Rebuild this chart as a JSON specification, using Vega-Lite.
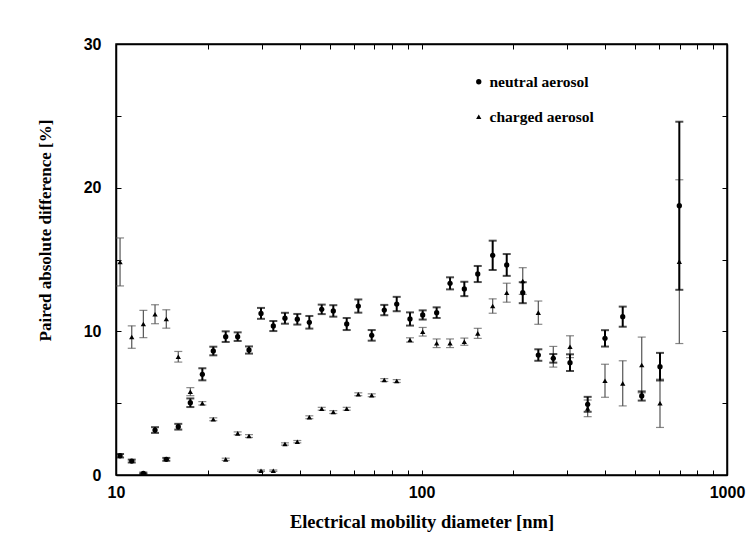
{
  "$schema": "https://vega.github.io/schema/vega-lite/v6.json",
  "width": 611,
  "height": 431,
  "autosize": {"type": "none"},
  "padding": {"left": 116, "top": 44, "right": 20, "bottom": 80},
  "background": "white",
  "config": {
    "view": {"stroke": "#000", "strokeWidth": 1.5},
    "axis": {
      "grid": false,
      "domainColor": "#000",
      "domainWidth": 1.5,
      "tickColor": "#000",
      "tickWidth": 1,
      "labelFont": "Liberation Sans",
      "labelFontWeight": "bold",
      "labelFontSize": 16,
      "labelColor": "#000",
      "labelFlush": false,
      "titleFont": "Liberation Serif",
      "titleFontWeight": "bold",
      "titleFontSize": 17,
      "titleColor": "#000"
    },
    "legend": {
      "labelFont": "Liberation Serif",
      "labelFontWeight": "bold",
      "labelFontSize": 15.5,
      "labelColor": "#000"
    }
  },
  "datasets": {
    "pts": [
      {"d": 10.31, "series": "neutral aerosol", "value": 1.34, "err": 0.12},
      {"d": 11.26, "series": "neutral aerosol", "value": 0.97, "err": 0.1},
      {"d": 12.29, "series": "neutral aerosol", "value": 0.12, "err": 0.05},
      {"d": 13.42, "series": "neutral aerosol", "value": 3.13, "err": 0.2},
      {"d": 14.61, "series": "neutral aerosol", "value": 1.09, "err": 0.1},
      {"d": 15.99, "series": "neutral aerosol", "value": 3.36, "err": 0.2},
      {"d": 17.51, "series": "neutral aerosol", "value": 5.03, "err": 0.3},
      {"d": 19.17, "series": "neutral aerosol", "value": 7.01, "err": 0.42},
      {"d": 20.82, "series": "neutral aerosol", "value": 8.63, "err": 0.3},
      {"d": 22.86, "series": "neutral aerosol", "value": 9.63, "err": 0.37},
      {"d": 25.02, "series": "neutral aerosol", "value": 9.63, "err": 0.3},
      {"d": 27.25, "series": "neutral aerosol", "value": 8.7, "err": 0.25},
      {"d": 29.83, "series": "neutral aerosol", "value": 11.25, "err": 0.38},
      {"d": 32.73, "series": "neutral aerosol", "value": 10.37, "err": 0.35},
      {"d": 35.73, "series": "neutral aerosol", "value": 10.91, "err": 0.38},
      {"d": 39.22, "series": "neutral aerosol", "value": 10.84, "err": 0.37},
      {"d": 42.94, "series": "neutral aerosol", "value": 10.63, "err": 0.44},
      {"d": 47.14, "series": "neutral aerosol", "value": 11.53, "err": 0.33},
      {"d": 51.44, "series": "neutral aerosol", "value": 11.42, "err": 0.4},
      {"d": 56.91, "series": "neutral aerosol", "value": 10.51, "err": 0.42},
      {"d": 62.11, "series": "neutral aerosol", "value": 11.76, "err": 0.46},
      {"d": 68.71, "series": "neutral aerosol", "value": 9.72, "err": 0.37},
      {"d": 75.54, "series": "neutral aerosol", "value": 11.48, "err": 0.36},
      {"d": 82.96, "series": "neutral aerosol", "value": 11.9, "err": 0.5},
      {"d": 91.69, "series": "neutral aerosol", "value": 10.86, "err": 0.46},
      {"d": 100.9, "series": "neutral aerosol", "value": 11.14, "err": 0.32},
      {"d": 112.1, "series": "neutral aerosol", "value": 11.3, "err": 0.37},
      {"d": 124.0, "series": "neutral aerosol", "value": 13.34, "err": 0.42},
      {"d": 138.1, "series": "neutral aerosol", "value": 12.95, "err": 0.5},
      {"d": 152.8, "series": "neutral aerosol", "value": 13.99, "err": 0.56},
      {"d": 171.0, "series": "neutral aerosol", "value": 15.29, "err": 1.02},
      {"d": 190.1, "series": "neutral aerosol", "value": 14.62, "err": 0.76},
      {"d": 214.5, "series": "neutral aerosol", "value": 12.69, "err": 0.73},
      {"d": 241.2, "series": "neutral aerosol", "value": 8.35, "err": 0.4},
      {"d": 270.0, "series": "neutral aerosol", "value": 8.12, "err": 0.3},
      {"d": 306.3, "series": "neutral aerosol", "value": 7.82, "err": 0.58},
      {"d": 349.9, "series": "neutral aerosol", "value": 4.92, "err": 0.52},
      {"d": 398.7, "series": "neutral aerosol", "value": 9.51, "err": 0.57},
      {"d": 455.7, "series": "neutral aerosol", "value": 11.02, "err": 0.7},
      {"d": 525.9, "series": "neutral aerosol", "value": 5.5, "err": 0.32},
      {"d": 603.5, "series": "neutral aerosol", "value": 7.54, "err": 0.96},
      {"d": 698.1, "series": "neutral aerosol", "value": 18.74, "err": 5.85},
      {"d": 10.31, "series": "charged aerosol", "value": 14.83, "err": 1.67},
      {"d": 11.26, "series": "charged aerosol", "value": 9.6, "err": 0.78},
      {"d": 12.29, "series": "charged aerosol", "value": 10.51, "err": 0.95},
      {"d": 13.42, "series": "charged aerosol", "value": 11.19, "err": 0.66},
      {"d": 14.61, "series": "charged aerosol", "value": 10.86, "err": 0.64},
      {"d": 15.99, "series": "charged aerosol", "value": 8.23, "err": 0.37},
      {"d": 17.51, "series": "charged aerosol", "value": 5.8, "err": 0.28},
      {"d": 19.17, "series": "charged aerosol", "value": 4.99, "err": 0.12},
      {"d": 20.82, "series": "charged aerosol", "value": 3.88, "err": 0.1},
      {"d": 22.86, "series": "charged aerosol", "value": 1.09, "err": 0.08},
      {"d": 25.02, "series": "charged aerosol", "value": 2.9, "err": 0.1},
      {"d": 27.25, "series": "charged aerosol", "value": 2.71, "err": 0.1},
      {"d": 29.83, "series": "charged aerosol", "value": 0.3, "err": 0.05},
      {"d": 32.73, "series": "charged aerosol", "value": 0.3, "err": 0.05},
      {"d": 35.73, "series": "charged aerosol", "value": 2.16, "err": 0.08},
      {"d": 39.22, "series": "charged aerosol", "value": 2.32, "err": 0.08},
      {"d": 42.94, "series": "charged aerosol", "value": 4.02, "err": 0.1},
      {"d": 47.14, "series": "charged aerosol", "value": 4.61, "err": 0.1},
      {"d": 51.44, "series": "charged aerosol", "value": 4.38, "err": 0.1},
      {"d": 56.91, "series": "charged aerosol", "value": 4.61, "err": 0.1},
      {"d": 62.11, "series": "charged aerosol", "value": 5.62, "err": 0.1},
      {"d": 68.71, "series": "charged aerosol", "value": 5.55, "err": 0.1},
      {"d": 75.54, "series": "charged aerosol", "value": 6.61, "err": 0.1},
      {"d": 82.96, "series": "charged aerosol", "value": 6.54, "err": 0.1},
      {"d": 91.69, "series": "charged aerosol", "value": 9.4, "err": 0.15},
      {"d": 100.9, "series": "charged aerosol", "value": 9.97, "err": 0.3},
      {"d": 112.1, "series": "charged aerosol", "value": 9.17, "err": 0.3},
      {"d": 124.0, "series": "charged aerosol", "value": 9.17, "err": 0.3},
      {"d": 138.1, "series": "charged aerosol", "value": 9.28, "err": 0.25},
      {"d": 152.8, "series": "charged aerosol", "value": 9.86, "err": 0.35},
      {"d": 171.0, "series": "charged aerosol", "value": 11.76, "err": 0.5},
      {"d": 190.1, "series": "charged aerosol", "value": 12.69, "err": 0.66},
      {"d": 214.5, "series": "charged aerosol", "value": 13.5, "err": 0.93},
      {"d": 241.2, "series": "charged aerosol", "value": 11.3, "err": 0.81},
      {"d": 270.0, "series": "charged aerosol", "value": 8.23, "err": 0.72},
      {"d": 306.3, "series": "charged aerosol", "value": 8.93, "err": 0.76},
      {"d": 349.9, "series": "charged aerosol", "value": 4.64, "err": 0.58},
      {"d": 398.7, "series": "charged aerosol", "value": 6.56, "err": 1.15},
      {"d": 455.7, "series": "charged aerosol", "value": 6.38, "err": 1.57},
      {"d": 525.9, "series": "charged aerosol", "value": 7.66, "err": 1.94},
      {"d": 603.5, "series": "charged aerosol", "value": 4.99, "err": 1.68},
      {"d": 698.1, "series": "charged aerosol", "value": 14.85, "err": 5.7}
    ]
  },
  "data": {"name": "pts"},
  "layer": [
    {
      "transform": [{"filter": "datum.series == 'charged aerosol'"}],
      "mark": {"type": "errorbar", "ticks": true, "size": 8, "thickness": 1.2, "color": "#555555"},
      "encoding": {
        "x": {"field": "d", "type": "quantitative", "scale": {"type": "log", "domain": [10, 1000], "nice": false}, "axis": null},
        "y": {"field": "value", "type": "quantitative", "scale": {"domain": [0, 30], "nice": false, "zero": false}, "axis": null},
        "yError": {"field": "err"}
      }
    },
    {
      "transform": [{"filter": "datum.series == 'neutral aerosol'"}],
      "mark": {"type": "errorbar", "ticks": true, "size": 8, "thickness": 2, "color": "#000000"},
      "encoding": {
        "x": {"field": "d", "type": "quantitative", "scale": {"type": "log", "domain": [10, 1000], "nice": false}, "axis": null},
        "y": {"field": "value", "type": "quantitative", "scale": {"domain": [0, 30], "nice": false, "zero": false}, "axis": null},
        "yError": {"field": "err"}
      }
    },
    {
      "mark": {"type": "point", "filled": true, "color": "#000000", "opacity": 1, "size": 28},
      "encoding": {
        "x": {
          "field": "d", "type": "quantitative",
          "scale": {"type": "log", "domain": [10, 1000], "nice": false},
          "axis": {
            "orient": "bottom",
            "title": "Electrical mobility diameter [nm]",
            "values": [10, 20, 30, 40, 50, 60, 70, 80, 90, 100, 200, 300, 400, 500, 600, 700, 800, 900, 1000],
            "labelExpr": "datum.value == 10 || datum.value == 100 || datum.value == 1000 ? format(datum.value, 'd') : ''",
            "tickSize": -5,
            "labelPadding": 14,
            "titleY": 46,
            "titleBaseline": "middle",
            "titleFontSize": 18.5
          }
        },
        "y": {
          "field": "value", "type": "quantitative",
          "scale": {"domain": [0, 30], "nice": false, "zero": false},
          "axis": {
            "orient": "left",
            "title": "Paired absolute difference [%]",
            "values": [0, 5, 10, 15, 20, 25, 30],
            "labelExpr": "datum.value % 10 == 0 ? format(datum.value, 'd') : ''",
            "tickSize": -5,
            "labelPadding": 20,
            "titleX": -71,
            "titleY": 186,
            "titleBaseline": "middle",
            "titleAlign": "center"
          }
        },
        "shape": {
          "field": "series", "type": "nominal",
          "scale": {"domain": ["neutral aerosol", "charged aerosol"], "range": ["circle", "triangle-up"]},
          "legend": {
            "title": null,
            "orient": "none",
            "legendX": 355,
            "legendY": 30,
            "rowPadding": 18,
            "symbolSize": 28,
            "symbolFillColor": "#000000",
            "symbolStrokeColor": "#000000",
            "labelOffset": 3
          }
        }
      }
    },
    {
      "mark": {"type": "point", "opacity": 0},
      "encoding": {
        "x": {
          "field": "d", "type": "quantitative",
          "scale": {"type": "log", "domain": [10, 1000], "nice": false},
          "axis": {
            "orient": "top", "title": null, "labels": false,
            "values": [10, 20, 30, 40, 50, 60, 70, 80, 90, 100, 200, 300, 400, 500, 600, 700, 800, 900, 1000],
            "tickSize": -5
          }
        },
        "y": {
          "field": "value", "type": "quantitative",
          "scale": {"domain": [0, 30], "nice": false, "zero": false},
          "axis": {
            "orient": "right", "title": null, "labels": false,
            "values": [0, 5, 10, 15, 20, 25, 30],
            "tickSize": -5
          }
        }
      }
    }
  ],
  "resolve": {"axis": {"x": "independent", "y": "independent"}}
}
